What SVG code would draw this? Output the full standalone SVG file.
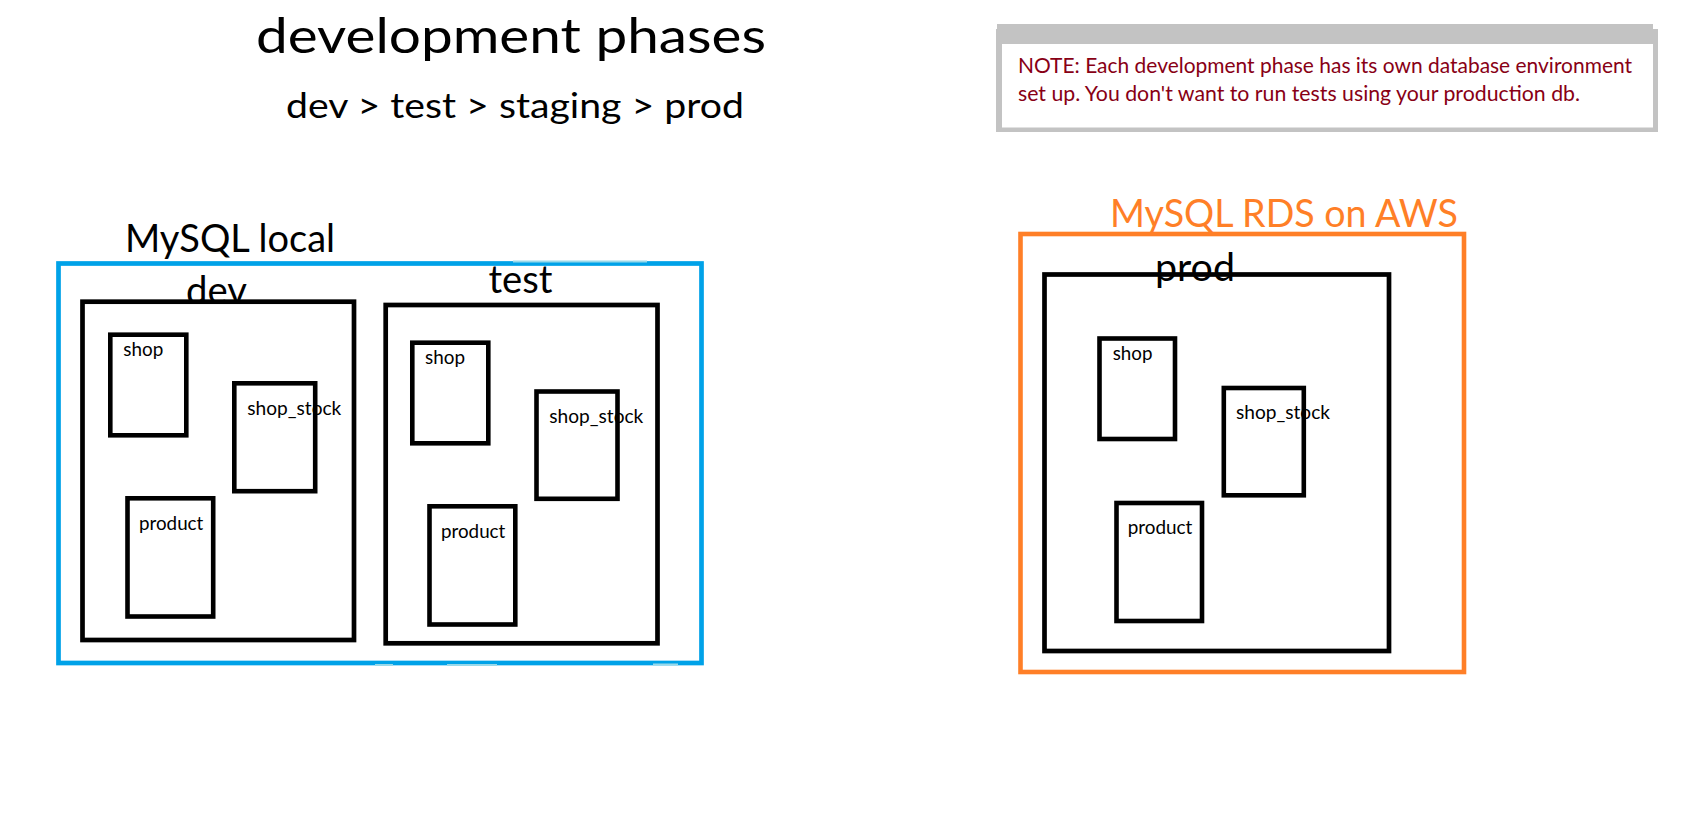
<svg xmlns="http://www.w3.org/2000/svg" width="1691" height="836" viewBox="0 0 1691 836">
<style>
  text { font-family: Lato, "Open Sans", "Liberation Sans", sans-serif; fill: #000; }
  .box { fill: none; stroke: #000; stroke-width: 4.7; }
  .tbl { fill: none; stroke: #000; stroke-width: 4.6; }
  .lbl { font-size: 19.5px; }
  .phase { font-size: 39px; }
  .note { font-size: 20.5px; fill: #880015; }
  .blue { fill: none; stroke: #00A2E8; stroke-width: 4.7; }
  .blue-lt { fill: none; stroke: #99D9EA; stroke-width: 2; }
  .orange { fill: none; stroke: #FF7F27; stroke-width: 4.6; }
</style>
<rect width="1691" height="836" fill="#fff"/>

<g id="title">
  <text x="256" y="53" font-size="49" textLength="510" lengthAdjust="spacingAndGlyphs">development phases</text>
</g>
<g id="subtitle">
  <text x="286" y="118" font-size="35" textLength="458" lengthAdjust="spacingAndGlyphs">dev &gt; test &gt; staging &gt; prod</text>
</g>

<g id="note">
  <rect x="996" y="29" width="662" height="103" fill="#C3C3C3"/>
  <rect x="997" y="24" width="656" height="20" fill="#C3C3C3"/>
  <rect x="1002" y="44" width="651" height="83.5" fill="#fff"/>
  <text class="note" x="1018" y="73" textLength="614" lengthAdjust="spacingAndGlyphs">NOTE: Each development phase has its own database environment</text>
  <text class="note" x="1018" y="100.5" textLength="562" lengthAdjust="spacingAndGlyphs">set up. You don't want to run tests using your production db.</text>
</g>

<g id="mysql-local">
  <text x="125" y="251.5" font-size="39" textLength="210" lengthAdjust="spacingAndGlyphs">MySQL local</text>
  <rect class="blue" x="58.5" y="263.5" width="643" height="399.5"/>
  <path class="blue-lt" d="M513 261.5 H647 M375 665 H393 M447 665 H497 M653 664.5 H678"/>
</g>

<g id="dev">
  <text class="phase" x="186" y="304" textLength="61" lengthAdjust="spacingAndGlyphs">dev</text>
  <rect class="box" x="82.5" y="301.7" width="271.5" height="338.3"/>
  <g id="dev-shop">
    <text class="lbl" x="123.3" y="355.7" textLength="40" lengthAdjust="spacingAndGlyphs">shop</text>
    <rect class="tbl" x="110.3" y="334.7" width="76" height="100.6"/>
  </g>
  <g id="dev-shop-stock">
    <text class="lbl" x="247.3" y="415" textLength="94" lengthAdjust="spacingAndGlyphs">shop_stock</text>
    <rect class="tbl" x="234.3" y="383.3" width="80.9" height="107.9"/>
  </g>
  <g id="dev-product">
    <text class="lbl" x="139" y="530" textLength="64.3" lengthAdjust="spacingAndGlyphs">product</text>
    <rect class="tbl" x="127.5" y="498.3" width="85.7" height="118.2"/>
  </g>
</g>

<g id="test">
  <text class="phase" x="488.5" y="292.7" textLength="64" lengthAdjust="spacingAndGlyphs">test</text>
  <rect class="box" x="385.7" y="305" width="271.8" height="338.3"/>
  <g id="test-shop">
    <text class="lbl" x="425" y="364" textLength="40" lengthAdjust="spacingAndGlyphs">shop</text>
    <rect class="tbl" x="412.3" y="342.7" width="76" height="100.6"/>
  </g>
  <g id="test-shop-stock">
    <text class="lbl" x="549.3" y="422.7" textLength="94" lengthAdjust="spacingAndGlyphs">shop_stock</text>
    <rect class="tbl" x="536.5" y="391.5" width="81" height="107.3"/>
  </g>
  <g id="test-product">
    <text class="lbl" x="441" y="537.7" textLength="64.3" lengthAdjust="spacingAndGlyphs">product</text>
    <rect class="tbl" x="429.5" y="506.3" width="85.8" height="118.2"/>
  </g>
</g>

<g id="mysql-rds">
  <text x="1110" y="226.5" font-size="39" style="fill:#FF7F27" textLength="348" lengthAdjust="spacingAndGlyphs">MySQL RDS on AWS</text>
  <rect class="orange" x="1020.5" y="234" width="443.5" height="438"/>
</g>

<g id="prod">
  <rect class="box" x="1044.5" y="274.5" width="344.5" height="376.5"/>
  <text class="phase" x="1155" y="281" textLength="80" lengthAdjust="spacingAndGlyphs">prod</text>
  <g id="prod-shop">
    <text class="lbl" x="1112.7" y="360" textLength="39.7" lengthAdjust="spacingAndGlyphs">shop</text>
    <rect class="tbl" x="1099.5" y="338.5" width="75.5" height="100.5"/>
  </g>
  <g id="prod-shop-stock">
    <text class="lbl" x="1236" y="419" textLength="94" lengthAdjust="spacingAndGlyphs">shop_stock</text>
    <rect class="tbl" x="1223.8" y="388" width="80" height="107.3"/>
  </g>
  <g id="prod-product">
    <text class="lbl" x="1127.7" y="534" textLength="64.7" lengthAdjust="spacingAndGlyphs">product</text>
    <rect class="tbl" x="1116.5" y="503" width="85.5" height="118"/>
  </g>
</g>

<g id="connectors"/>
</svg>
